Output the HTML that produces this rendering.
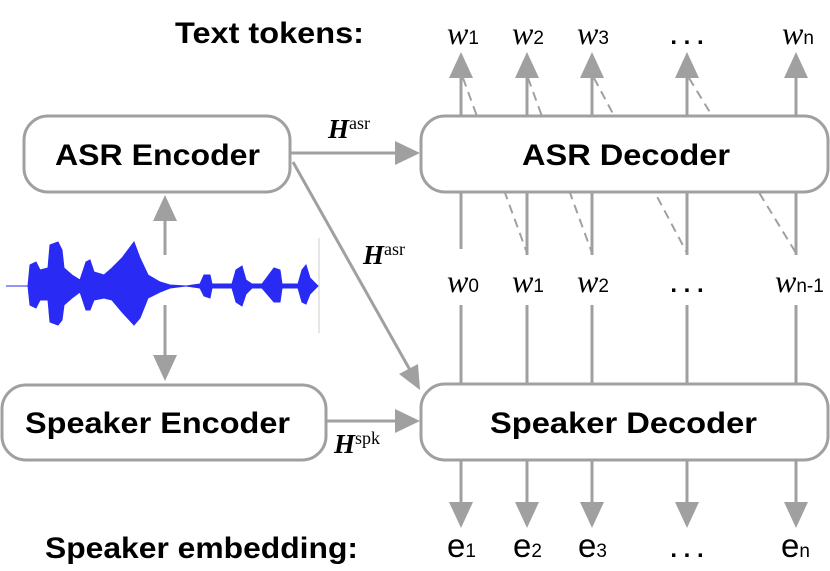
<!DOCTYPE html>
<html><head><meta charset="utf-8"><style>
html,body{margin:0;padding:0;background:#fff;width:830px;height:571px;overflow:hidden}
svg{display:block}
.b{font-family:"Liberation Sans",sans-serif;font-weight:bold;fill:#000}
.w{font-family:"Liberation Serif",serif;font-style:italic;font-size:32px;fill:#000}
.s{font-family:"Liberation Sans",sans-serif;font-size:19px;font-style:normal}
.e{font-family:"Liberation Sans",sans-serif;font-size:33px;fill:#000}
.H{font-family:"Liberation Serif",serif;font-weight:bold;font-style:italic;font-size:27px}
.sup{font-family:"Liberation Serif",serif;font-size:18px;font-style:normal;font-weight:normal}
</style></head><body>
<svg width="830" height="571" viewBox="0 0 830 571">
<g stroke="#a0a0a0" stroke-width="3" fill="none">
 <g stroke-dasharray="9,6" stroke-width="2">
  <line x1="463" y1="78" x2="527" y2="253"/>
  <line x1="528" y1="78" x2="592" y2="253"/>
  <line x1="594" y1="78" x2="687" y2="253"/>
  <line x1="689" y1="78" x2="796" y2="253"/>
 </g>
 <line x1="461" y1="78" x2="461" y2="118"/><line x1="527" y1="78" x2="527" y2="118"/>
 <line x1="592" y1="78" x2="592" y2="118"/><line x1="687" y1="78" x2="687" y2="118"/>
 <line x1="796" y1="78" x2="796" y2="118"/>
 <line x1="461" y1="190" x2="461" y2="249"/><line x1="527" y1="190" x2="527" y2="255"/>
 <line x1="592" y1="190" x2="592" y2="255"/><line x1="687" y1="190" x2="687" y2="255"/>
 <line x1="796" y1="190" x2="796" y2="255"/>
 <line x1="461" y1="305" x2="461" y2="386"/><line x1="527" y1="305" x2="527" y2="386"/>
 <line x1="592" y1="305" x2="592" y2="386"/><line x1="687" y1="305" x2="687" y2="386"/>
 <line x1="796" y1="305" x2="796" y2="386"/>
 <line x1="461" y1="460" x2="461" y2="505"/><line x1="527" y1="460" x2="527" y2="505"/>
 <line x1="592" y1="460" x2="592" y2="505"/><line x1="687" y1="460" x2="687" y2="505"/>
 <line x1="796" y1="460" x2="796" y2="505"/>
 <line x1="290" y1="153" x2="400" y2="153"/>
 <line x1="293" y1="162" x2="410" y2="370"/>
 <line x1="326" y1="421" x2="400" y2="421"/>
 <line x1="165" y1="215" x2="165" y2="255"/>
 <line x1="165" y1="305" x2="165" y2="365"/>
 <rect x="24" y="116" width="266" height="76" rx="24" fill="#fff"/>
 <rect x="421" y="116" width="407" height="76" rx="24" fill="#fff"/>
 <rect x="2" y="385" width="324" height="75" rx="24" fill="#fff"/>
 <rect x="421" y="384" width="407" height="76" rx="24" fill="#fff"/>
 <line x1="319" y1="238" x2="319" y2="333" stroke="#ccc" stroke-width="1"/>
</g>
<g fill="#a0a0a0">
 <polygon points="449,78 473,78 461,52"/><polygon points="515,78 539,78 527,52"/>
 <polygon points="580,78 604,78 592,52"/><polygon points="675,78 699,78 687,52"/>
 <polygon points="784,78 808,78 796,52"/>
 <polygon points="449,502 473,502 461,528"/><polygon points="515,502 539,502 527,528"/>
 <polygon points="580,502 604,502 592,528"/><polygon points="675,502 699,502 687,528"/>
 <polygon points="784,502 808,502 796,528"/>
 <polygon points="395,141 395,165 420,153"/>
 <polygon points="395,409 395,433 420,421"/>
 <polygon points="399,374 418,364 420,390"/>
 <polygon points="153,221 177,221 165,195"/>
 <polygon points="153,355 177,355 165,381"/>
</g>
<g fill="#2a2af5" stroke="#2a2af5" stroke-width="1">
 <line x1="6" y1="286" x2="318" y2="286"/>
 <path d="M28,286 L30,265 L36,262 L40,270 L48,268 L50,245 L58,242 L62,250 L64,268 L72,275 L80,280 L86,262 L90,260 L94,272 L104,275 L112,268 L122,258 L134,242 L140,258 L148,275 L160,282 L170,285 L186,286 L200,284 L204,275 L210,275 L212,284 L232,284 L236,270 L242,266 L246,280 L252,284 L262,284 L274,268 L280,270 L282,284 L298,284 L302,270 L306,265 L310,278 L318,286 L310,294 L306,304 L302,302 L298,288 L282,288 L280,302 L274,302 L262,288 L252,288 L246,294 L242,306 L236,302 L232,288 L212,288 L210,298 L204,296 L200,288 L186,286 L170,288 L160,292 L148,298 L140,318 L134,325 L122,312 L112,300 L104,298 L94,300 L90,310 L86,310 L80,292 L72,298 L64,305 L62,320 L58,325 L50,322 L48,300 L40,300 L36,308 L30,305 Z"/>
</g>
<text class="b" x="175" y="43" font-size="30" textLength="189" lengthAdjust="spacingAndGlyphs">Text tokens:</text>
<text class="b" x="45" y="558" font-size="30" textLength="313" lengthAdjust="spacingAndGlyphs">Speaker embedding:</text>
<text class="b" x="55" y="165" font-size="30" textLength="205" lengthAdjust="spacingAndGlyphs">ASR Encoder</text>
<text class="b" x="522" y="165" font-size="30" textLength="208" lengthAdjust="spacingAndGlyphs">ASR Decoder</text>
<text class="b" x="25" y="433" font-size="30" textLength="265" lengthAdjust="spacingAndGlyphs">Speaker Encoder</text>
<text class="b" x="490" y="433" font-size="30" textLength="267" lengthAdjust="spacingAndGlyphs">Speaker Decoder</text>
<g>
 <text class="w" x="447" y="44">w<tspan class="s">1</tspan></text>
 <text class="w" x="512" y="44">w<tspan class="s">2</tspan></text>
 <text class="w" x="577" y="44">w<tspan class="s">3</tspan></text>
 <text class="b" x="687" y="44" font-size="24" text-anchor="middle">. . .</text>
 <text class="w" x="782" y="44">w<tspan class="s">n</tspan></text>
 <text class="w" x="447" y="292">w<tspan class="s">0</tspan></text>
 <text class="w" x="512" y="292">w<tspan class="s">1</tspan></text>
 <text class="w" x="577" y="292">w<tspan class="s">2</tspan></text>
 <text class="b" x="687" y="292" font-size="24" text-anchor="middle">. . .</text>
 <text class="w" x="775" y="292">w<tspan class="s">n-1</tspan></text>
 <text class="e" x="447" y="557">e<tspan class="s">1</tspan></text>
 <text class="e" x="513" y="557">e<tspan class="s">2</tspan></text>
 <text class="e" x="578" y="557">e<tspan class="s">3</tspan></text>
 <text class="b" x="687" y="557" font-size="24" text-anchor="middle">. . .</text>
 <text class="e" x="781" y="557">e<tspan class="s">n</tspan></text>
</g>
<text class="H" x="328" y="138">H<tspan class="sup" dy="-9">asr</tspan></text>
<text class="H" x="363" y="264">H<tspan class="sup" dy="-9">asr</tspan></text>
<text class="H" x="334" y="453">H<tspan class="sup" dy="-9">spk</tspan></text>
</svg>
</body></html>
